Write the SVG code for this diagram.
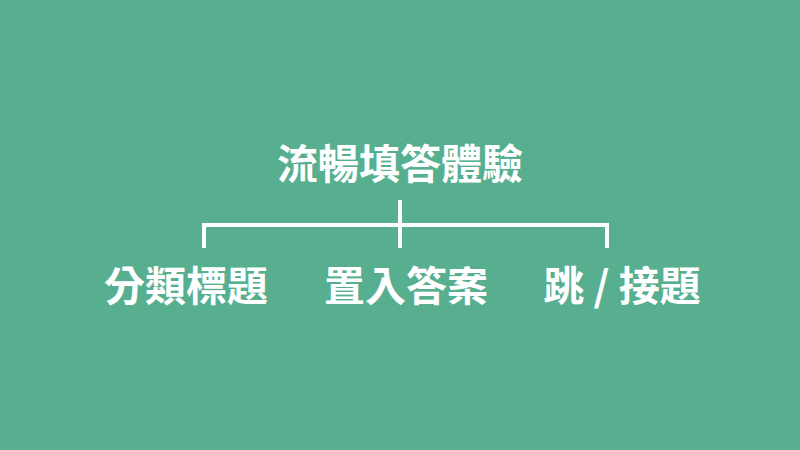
<svg xmlns="http://www.w3.org/2000/svg" width="800" height="450" viewBox="0 0 800 450">
<style>
.t{font-family:"Noto Sans CJK TC","Noto Sans CJK SC",sans-serif;font-weight:bold;fill:#ffffff;text-anchor:middle;font-size:41px}
.c{stroke:#ffffff;stroke-width:4;fill:none}
</style>
<rect width="800" height="450" fill="#57AF8F"/>
<g id="root"><text class="t" x="400" y="179">流暢填答體驗</text></g>
<g id="connectors">
<path class="c" d="M400 200V248M204 248V225H607V248"/>
</g>
<g id="n1"><text class="t" x="186" y="301">分類標題</text></g>
<g id="n2"><text class="t" x="406" y="301">置入答案</text></g>
<g id="n3"><text class="t" x="622" y="301">跳 / 接題</text></g>
</svg>
